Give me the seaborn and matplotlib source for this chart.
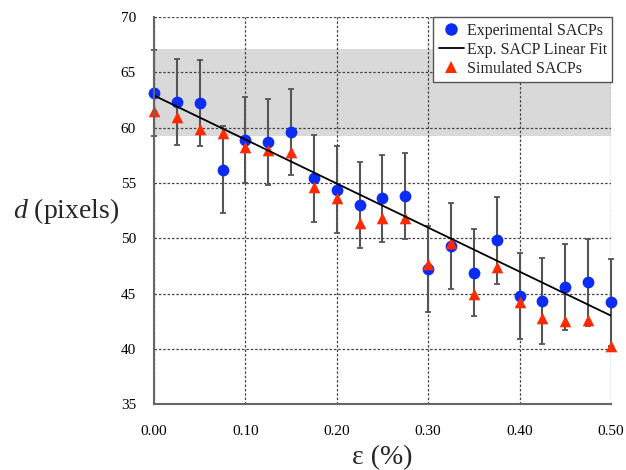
import numpy as np
import pandas as pd
import matplotlib
matplotlib.use("Agg")
import matplotlib.pyplot as plt
import seaborn as sns
from matplotlib.lines import Line2D

# ---- data ----
strain = [0.000, 0.025, 0.050, 0.075, 0.100, 0.125, 0.150, 0.175, 0.200, 0.225,
          0.250, 0.275, 0.300, 0.325, 0.350, 0.375, 0.400, 0.425, 0.450, 0.475, 0.500]
exp_d = [63.1, 62.3, 62.2, 56.2, 58.9, 58.7, 59.6, 55.4, 54.4, 53.0,
         53.6, 53.8, 47.2, 49.3, 46.9, 49.8, 44.8, 44.3, 45.6, 46.0, 44.2]
exp_err = [3.9] * 21
sim_d = [61.5, 61.0, 59.9, 59.5, 58.2, 58.0, 57.8, 54.6, 53.6, 51.4,
         51.8, 51.8, 47.7, 49.6, 45.0, 47.4, 44.2, 42.8, 42.5, 42.6, 40.3]
fit_x = [0.0, 0.5]
fit_y = [62.9, 43.0]
band_lo, band_hi = 59.2, 67.1
x_ticks = [0.0, 0.1, 0.2, 0.3, 0.4, 0.5]
x_ticklabels = ["0.00", "0.10", "0.20", "0.30", "0.40", "0.50"]
y_ticks = [35, 40, 45, 50, 55, 60, 65, 70]
labels = ["Experimental SACPs", "Exp. SACP Linear Fit", "Simulated SACPs"]

df = pd.DataFrame({"strain": strain, "exp": exp_d, "err": exp_err, "sim": sim_d})
fit_df = pd.DataFrame({"x": fit_x, "y": fit_y})

sns.set_theme(style="white")
plt.rcParams["font.family"] = ["Liberation Serif", "DejaVu Serif"]
plt.rcParams["mathtext.fontset"] = "custom"
plt.rcParams["mathtext.rm"] = "Liberation Serif"
plt.rcParams["mathtext.it"] = "Liberation Serif:italic"

BLUE = "#0a2cf5"
RED = "#ff2a00"

fig = plt.figure(figsize=(6.26, 4.70), dpi=100)
ax = fig.add_axes([0.246, 0.140, 0.730, 0.824])

ax.axhspan(band_lo, band_hi, color="#d9d9d9", zorder=0, lw=0)

eb = ax.errorbar(df["strain"], df["exp"], yerr=df["err"], fmt="none",
                 ecolor="#555555", elinewidth=1.5, capsize=2.2, capthick=1.3, zorder=2)
for art in eb.get_children():
    art.set_clip_on(False)
sns.scatterplot(data=df, x="strain", y="exp", ax=ax, color=BLUE, marker="o",
                s=72, linewidth=0, zorder=3, legend=False, clip_on=False)
sns.scatterplot(data=df, x="strain", y="sim", ax=ax, color=RED, marker="^",
                s=70, linewidth=0, zorder=4, legend=False, clip_on=False)
sns.lineplot(data=fit_df, x="x", y="y", ax=ax, color="black", linewidth=1.3,
             zorder=5, legend=False)

ax.set_xlim(0, 0.5)
ax.set_ylim(35, 70)
ax.set_xticks(x_ticks)
ax.set_xticklabels(x_ticklabels)
ax.set_yticks(y_ticks)
ax.tick_params(axis="both", length=0, labelsize=11, colors="black")
ax.tick_params(axis="x", pad=15)
ax.tick_params(axis="y", pad=13)

ax.grid(True, which="major", linestyle=(0, (2, 1.5)), color="#444444", linewidth=0.9, zorder=1)
ax.set_axisbelow(True)
for s in ["top", "right"]:
    ax.spines[s].set_visible(False)
for s in ["left", "bottom"]:
    ax.spines[s].set_color("#666666")
    ax.spines[s].set_linewidth(1.5)
    ax.spines[s].set_zorder(6)

ax.set_xlabel("ε (%)", fontsize=20)
ax.xaxis.set_label_coords(0.5, -0.138)
ax.xaxis.label.set_va("center")
ax.set_ylabel("$d$ (pixels)", fontsize=20, rotation=0, ha="right", va="center")
ax.yaxis.set_label_coords(-0.075, 0.5)

handles = [
    Line2D([], [], marker="o", color=BLUE, linestyle="none", markersize=9, markeredgewidth=0),
    Line2D([], [], color="black", linewidth=1.3),
    Line2D([], [], marker="^", color=RED, linestyle="none", markersize=9, markeredgewidth=0),
]
leg = ax.legend(handles, labels, loc="upper right", bbox_to_anchor=(1.003, 1.0),
                borderaxespad=0, fontsize=11.5, frameon=True, fancybox=False,
                edgecolor="#555555", framealpha=1, handlelength=1.6,
                handletextpad=0.15, labelspacing=0.2, borderpad=0.35)
leg.get_frame().set_linewidth(1.0)
leg.set_zorder(10)

fig.savefig("out.png", dpi=100)
